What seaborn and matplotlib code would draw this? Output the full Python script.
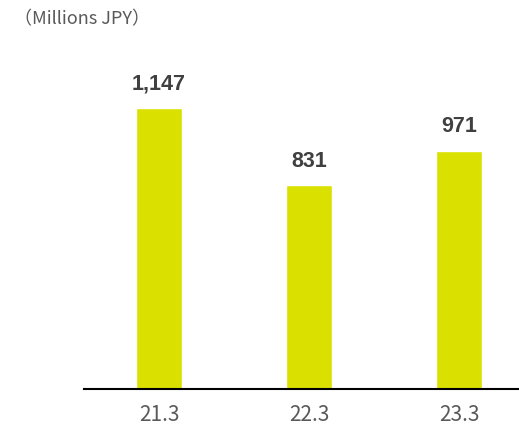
import matplotlib
matplotlib.use("Agg")
import pandas as pd
import seaborn as sns
import matplotlib.pyplot as plt

years = ["21.3", "22.3", "23.3"]
values = [1147, 831, 971]
bar_color = "#DAE000"


def plot_bars():
    sns.set_theme(style="white")
    plt.rcParams['font.family'] = ['Noto Sans CJK JP', 'DejaVu Sans']
    fig = plt.figure(figsize=(5.19, 4.32), dpi=100)
    ax = fig.add_axes([84 / 519, 43 / 432, 435 / 519, 343 / 432])
    df = pd.DataFrame({"year": years, "value": values})
    sns.barplot(x="year", y="value", data=df, color=bar_color, width=0.31,
                saturation=1, ax=ax)
    for i, v in enumerate(values):
        ax.annotate(f"{v:,}", (i, v), xytext=(0, 10), textcoords="offset points",
                    ha="center", va="bottom", fontsize=15.5, fontweight="bold",
                    color="#404040", family=["Liberation Sans", "DejaVu Sans"])
    ax.set_xlim(-0.5, 2.4)
    ax.set_ylim(0, 1400)
    ax.set_xlabel("")
    ax.set_ylabel("")
    ax.set_yticks([])
    for s in ["top", "right", "left"]:
        ax.spines[s].set_visible(False)
    ax.spines["bottom"].set_color("black")
    ax.spines["bottom"].set_linewidth(1.5)
    ax.tick_params(axis="x", length=0, pad=11, labelsize=15, labelcolor="#595959")
    fig.text(14 / 519, 1 - 19 / 432, "（Millions JPY）", ha="left", va="center",
             fontsize=13, color="#595959")
    return fig


if __name__ == '__main__':
    fig = plot_bars()
    fig.savefig("out.png", dpi=100)
